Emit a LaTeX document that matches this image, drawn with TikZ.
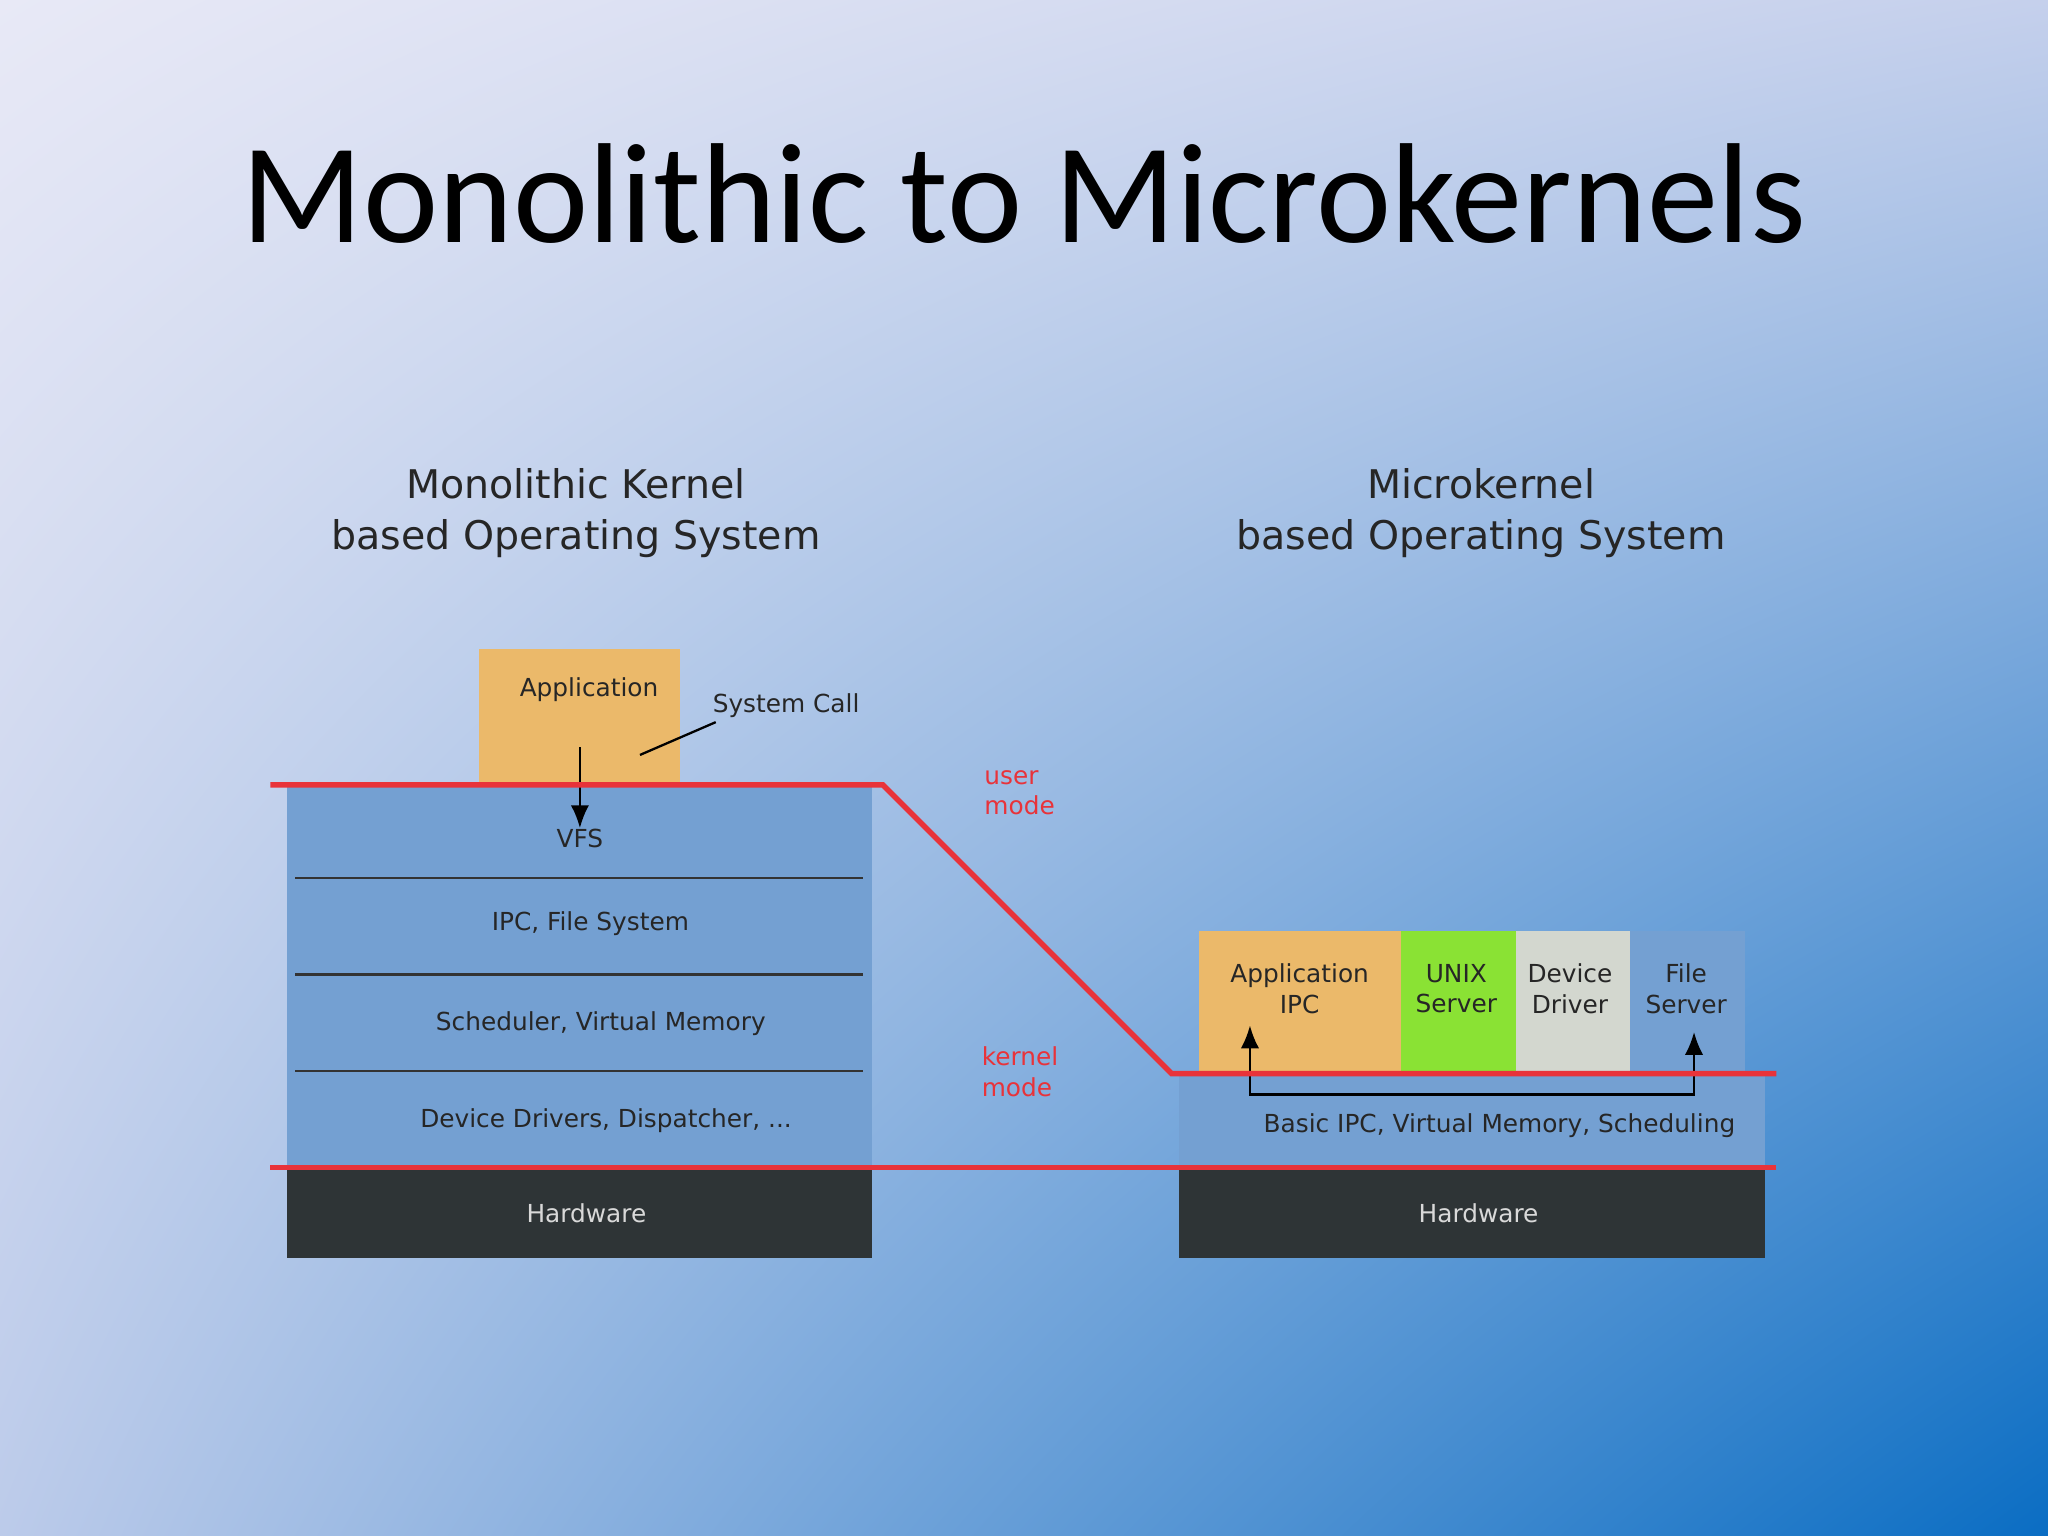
\documentclass[tikz,border=0pt]{standalone}
\usepackage{fontspec}
\setmainfont{DejaVu Sans}
\newfontfamily\titlefont{Carlito}
\usetikzlibrary{positioning,arrows.meta,shadings}
\definecolor{appor}{HTML}{EBB96A}
\definecolor{kblue}{HTML}{74A0D2}
\definecolor{hwgray}{HTML}{2E3436}
\definecolor{ugreen}{HTML}{8AE234}
\definecolor{dgray}{HTML}{D3D7CF}
\definecolor{modered}{HTML}{E8333A}
\definecolor{bgul}{HTML}{E8E9F6}
\definecolor{bgur}{HTML}{C5D0EC}
\definecolor{bgll}{HTML}{BCCBEA}
\definecolor{bglr}{HTML}{0A6DC3}
\begin{document}
\begin{tikzpicture}[x=0.01cm,y=-0.01cm,every node/.style={inner sep=0pt},
 lbl/.style={font=\fontsize{5.4}{6.6}\selectfont,text=black!85,align=center},
 hwlbl/.style={lbl,text=white!85!black},
 modelbl/.style={font=\fontsize{5.4}{6.6}\selectfont,text=modered,align=left,anchor=north west},
 subt/.style={font=\fontsize{8.6}{11}\selectfont,align=center,text=black!85},
 redline/.style={modered,line width=1.2pt},
 sep/.style={black!80,line width=0.5pt}]
  \useasboundingbox (0,0) rectangle (1568,1176);
  \shade[upper left=bgul,upper right=bgur,lower left=bgll,lower right=bglr] (0,0) rectangle (1568,1176);

  \node[font=\titlefont\fontsize{31}{36}\selectfont] (title) at (784,148) {Monolithic to Microkernels};
  \node[subt] (mono) at (441,393) {Monolithic Kernel\\based Operating System};
  \node[subt] (micro) at (1134,393) {Microkernel\\based Operating System};

  % monolithic side
  \fill[appor] (367,497) rectangle (521,600);
  \fill[kblue] (220,600) rectangle (668,895);
  \fill[hwgray] (220,895) rectangle (668,963);
  \foreach \Y in {672,746,820}
   {\draw[sep] (226,\Y) -- (661,\Y);}
  \node[lbl] (app) at (451,528) {Application};
  \node[lbl] (vfs) at (444,642) {VFS};
  \node[lbl] (ipcfs) at (452,707) {IPC, File System};
  \node[lbl] (sched) at (460,784) {Scheduler, Virtual Memory};
  \node[lbl] (drv) at (464,858) {Device Drivers, Dispatcher, ...};
  \node[hwlbl] (hw1) at (449,929) {Hardware};
  \node[lbl,anchor=west] (syscall) at (545,540) {System Call};
  \coordinate (appout) at (444,572);
  \coordinate (callend) at (490,578);
  \draw[-{Latex[length=5pt,width=4pt]},line width=0.6pt] (appout) -- (vfs.north);
  \draw[line width=0.5pt] (syscall.south west) ++(3,3) -- (callend);

  % microkernel side
  \fill[appor] (918,713) rectangle (1073,822);
  \fill[ugreen] (1073,713) rectangle (1161,822);
  \fill[dgray] (1161,713) rectangle (1248,822);
  \fill[kblue] (1248,713) rectangle (1336,822);
  \fill[kblue] (903,822) rectangle (1351,895);
  \fill[hwgray] (903,895) rectangle (1351,963);
  \node[lbl] (appipc) at (995,757) {Application\\IPC};
  \node[lbl] (unix) at (1115,757) {UNIX\\Server};
  \node[lbl] (ddrv) at (1202,757) {Device\\Driver};
  \node[lbl] (fsrv) at (1291,757) {File\\Server};
  \node[lbl] (basic) at (1148,862) {Basic IPC, Virtual Memory, Scheduling};
  \node[hwlbl] (hw2) at (1132,929) {Hardware};
  \coordinate (ipcend) at (957,785);
  \coordinate (fsend) at (1297,790);
  \coordinate (ipcbus) at (1297,838);
  \draw[{Latex[length=5pt,width=4pt]}-{Latex[length=5pt,width=4pt]},line width=0.6pt]
   (ipcend) |- (ipcbus) -- (fsend);

  % mode boundaries
  \draw[redline] (207,601) -- (676,601) -- (897,822) -- (1360,822);
  \draw[redline] (207,894) -- (1360,894);
  \node[modelbl] (user) at (753,589) {user\\mode};
  \node[modelbl] (kernel) at (751,801) {kernel\\mode};
\end{tikzpicture}
\end{document}
